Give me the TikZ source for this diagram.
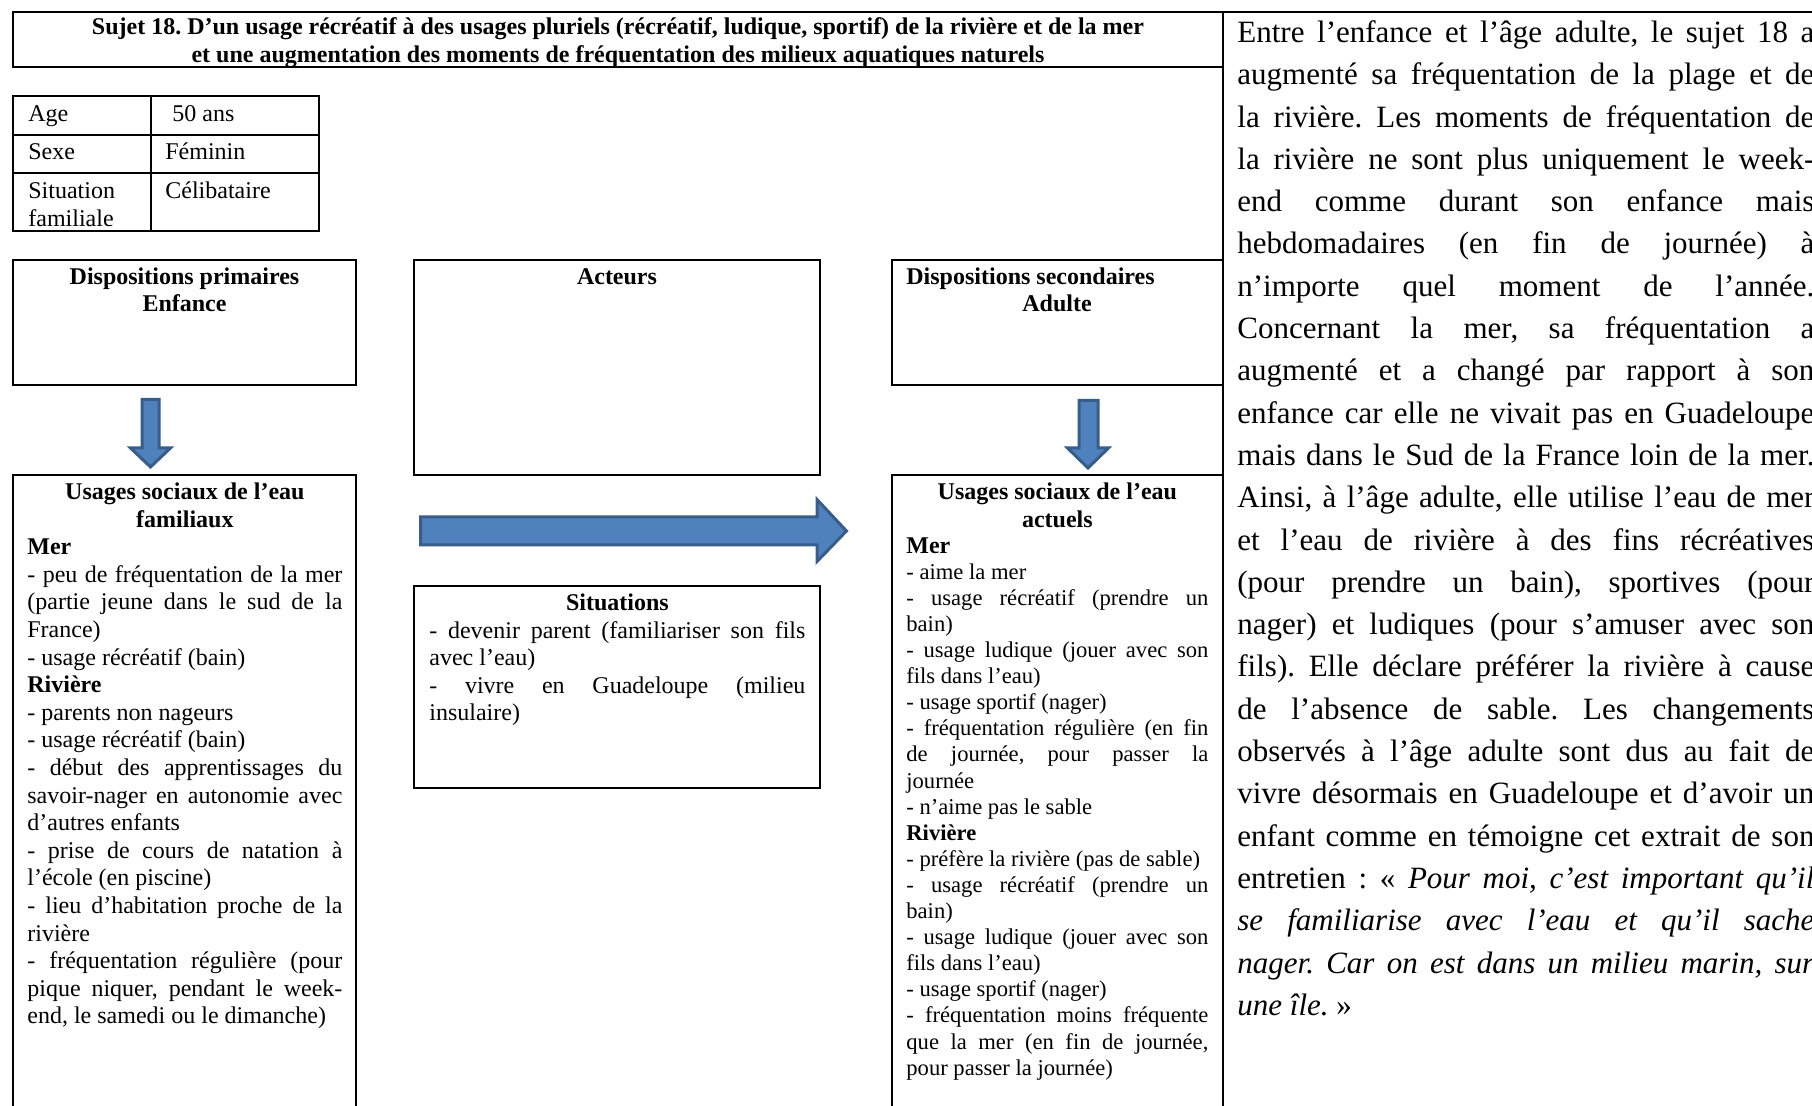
\documentclass[tikz,border=0pt]{standalone}
\usepackage{fontspec}
\setmainfont{Liberation Serif}
\frenchspacing
\newcommand{\ctr}[1]{\hbox to \linewidth{\hfil#1\hfil}}
\newcommand{\jst}[1]{\hbox to \linewidth{#1}}
\newcommand{\lft}[1]{\hbox{#1}}
\begin{document}
\begin{tikzpicture}[x=0.5pt,y=-0.5pt,font=\fontsize{12}{13.8}\selectfont]
\definecolor{arrowfill}{HTML}{4F81BD}
\definecolor{arrowline}{HTML}{385D8A}
\tikzset{
  frame/.style={draw=black, line width=1.1pt},
  blockarrow/.style={fill=arrowfill, draw=arrowline, line width=1.5pt, line join=miter},
  txt/.style={inner sep=0pt, anchor=base west},
  ctxt/.style={inner sep=0pt, anchor=base},
}
\useasboundingbox (0,0) rectangle (1812,1106);

% outer structure
\draw[frame] (1223,12) -- (1223,1112);
\draw[frame] (1223,12) -- (1816,12);
\draw[frame] (13,12) rectangle (1223,67);

% identity table
\draw[frame] (13,96) rectangle (319,231);
\draw[frame] (151,96) -- (151,231);
\draw[frame] (13,135) -- (319,135);
\draw[frame] (13,173) -- (319,173);

% boxes
\draw[frame] (13,260) rectangle (356,385);
\draw[frame] (414,260) rectangle (820,475);
\draw[frame] (892,260) rectangle (1223,385);
\draw[frame] (13,475) rectangle (356,1116);
\draw[frame] (892,475) rectangle (1223,1116);
\draw[frame] (414,586) rectangle (820,788);

% block arrows
\draw[blockarrow] (142,399.5) -- (159,399.5) -- (159,448) -- (170.5,448) -- (150.5,467) -- (130.5,448) -- (142,448) -- cycle;
\draw[blockarrow] (1079,400.5) -- (1098,400.5) -- (1098,448) -- (1108.5,448) -- (1088,468) -- (1067.5,448) -- (1079,448) -- cycle;
\draw[blockarrow] (420.5,517) -- (817,517) -- (817,499.5) -- (846.5,531) -- (817,561.5) -- (817,545) -- (420.5,545) -- cycle;

\begin{scope}[yshift=-1.25pt]
% title
\node[ctxt] (title1) at (618,32) {\bfseries Sujet 18. D’un usage récréatif à des usages pluriels (récréatif, ludique, sportif) de la rivière et de la mer};
\node[ctxt] (title2) at (618,60) {\bfseries et une augmentation des moments de fréquentation des milieux aquatiques naturels};

\node[txt] (age) at (28,119) {Age};
\node[txt] (agev) at (172,119) {50 ans};
\node[txt] (sexe) at (28,157) {Sexe};
\node[txt] (sexev) at (165,157) {Féminin};
\node[txt] (sit) at (28,196) {\parbox[t]{110pt}{\lft{Situation}\lft{familiale}}};
\node[txt] (sitv) at (165,196) {Célibataire};

\node[ctxt] (dp1) at (184.5,282) {\bfseries Dispositions primaires};
\node[ctxt] (dp2) at (184.5,309) {\bfseries Enfance};
\node[ctxt] (acteurs) at (617,282) {\bfseries Acteurs};
\node[txt] (ds1) at (906,282) {\bfseries Dispositions secondaires};
\node[ctxt] (ds2) at (1057,309) {\bfseries Adulte};

% usages familiaux
\node[txt] (fam) at (27,497) {\parbox[t]{157.5pt}{%
\ctr{\bfseries Usages sociaux de l’eau}
\ctr{\bfseries familiaux}
\lft{\bfseries Mer}
\jst{- peu de fréquentation de la mer}
\jst{(partie jeune dans le sud de la}
\lft{France)}
\lft{- usage récréatif (bain)}
\lft{\bfseries Rivière}
\lft{- parents non nageurs}
\lft{- usage récréatif (bain)}
\jst{- début des apprentissages du}
\jst{savoir-nager en autonomie avec}
\lft{d’autres enfants}
\jst{- prise de cours de natation à}
\lft{l’école (en piscine)}
\jst{- lieu d’habitation proche de la}
\lft{rivière}
\jst{- fréquentation régulière (pour}
\jst{pique niquer, pendant le week-}
\lft{end, le samedi ou le dimanche)}}};

% usages actuels
\node[txt] (act) at (906,497) {\parbox[t]{151pt}{%
\ctr{\bfseries Usages sociaux de l’eau}
\ctr{\bfseries actuels}
\fontsize{11.3}{13.05}\selectfont
\lft{\fontsize{12}{13.05}\selectfont\bfseries Mer}
\lft{- aime la mer}
\jst{- usage récréatif (prendre un}
\lft{bain)}
\jst{- usage ludique (jouer avec son}
\lft{fils dans l’eau)}
\lft{- usage sportif (nager)}
\jst{- fréquentation régulière (en fin}
\jst{de journée, pour passer la}
\lft{journée}
\lft{- n’aime pas le sable}
\lft{\bfseries Rivière}
\lft{- préfère la rivière (pas de sable)}
\jst{- usage récréatif (prendre un}
\lft{bain)}
\jst{- usage ludique (jouer avec son}
\lft{fils dans l’eau)}
\lft{- usage sportif (nager)}
\jst{- fréquentation moins fréquente}
\jst{que la mer (en fin de journée,}
\lft{pour passer la journée)}}};

% situations
\node[txt] (situations) at (429,608) {\parbox[t]{188pt}{%
\ctr{\bfseries Situations}
\jst{- devenir parent (familiariser son fils}
\lft{avec l’eau)}
\jst{- vivre en Guadeloupe (milieu}
\lft{insulaire)}}};

% commentary column
\node[txt] (comment) at (1237,40) {\parbox[t]{288.5pt}{%
\fontsize{15.5}{21.15}\selectfont
\jst{Entre l’enfance et l’âge adulte, le sujet 18 a}
\jst{augmenté sa fréquentation de la plage et de}
\jst{la rivière. Les moments de fréquentation de}
\jst{la rivière ne sont plus uniquement le week-}
\jst{end comme durant son enfance mais}
\jst{hebdomadaires (en fin de journée) à}
\jst{n’importe quel moment de l’année.}
\jst{Concernant la mer, sa fréquentation a}
\jst{augmenté et a changé par rapport à son}
\jst{enfance car elle ne vivait pas en Guadeloupe}
\jst{mais dans le Sud de la France loin de la mer.}
\jst{Ainsi, à l’âge adulte, elle utilise l’eau de mer}
\jst{et l’eau de rivière à des fins récréatives}
\jst{(pour prendre un bain), sportives (pour}
\jst{nager) et ludiques (pour s’amuser avec son}
\jst{fils). Elle déclare préférer la rivière à cause}
\jst{de l’absence de sable. Les changements}
\jst{observés à l’âge adulte sont dus au fait de}
\jst{vivre désormais en Guadeloupe et d’avoir un}
\jst{enfant comme en témoigne cet extrait de son}
\jst{entretien : « \textit{Pour moi, c’est important qu’il}}
\jst{\textit{se familiarise avec l’eau et qu’il sache}}
\jst{\textit{nager. Car on est dans un milieu marin, sur}}
\lft{\textit{une île.} »}}};
\end{scope}
\end{tikzpicture}
\end{document}
